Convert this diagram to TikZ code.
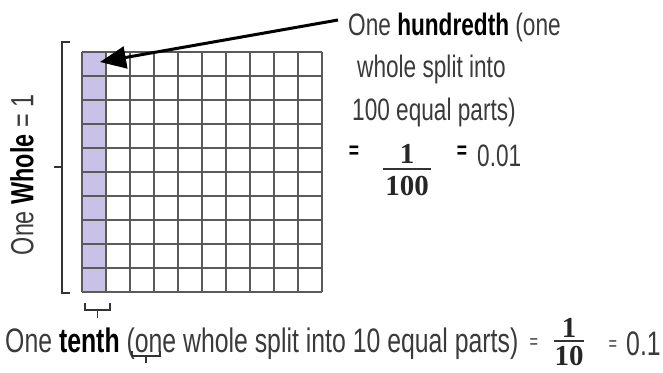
\documentclass[tikz,border=0pt]{standalone}
\usepackage{fontspec}
\setmainfont{Liberation Sans}
\newfontfamily\hand[FakeStretch=0.73]{Liberation Sans}
\newfontfamily\fracfont{Liberation Serif}
\usetikzlibrary{arrows.meta}
\definecolor{txt}{HTML}{3A3A3A}
\definecolor{lav}{HTML}{C9C1E8}
\definecolor{gridc}{HTML}{5A5A5A}
\tikzset{
  hw/.style={font=\hand\fontsize{31}{33}\selectfont, text=txt, inner sep=0pt, anchor=base west},
  hwb/.style={font=\hand\fontsize{34}{36}\selectfont, text=txt, inner sep=0pt, anchor=base west},
  fr/.style={font=\fracfont\bfseries\fontsize{29}{31}\selectfont, text=black!85, inner sep=0pt, anchor=base},
  eqs/.style={font=\hand\bfseries\fontsize{24}{26}\selectfont, text=black, inner sep=0pt},
  eqb/.style={font=\hand\fontsize{20}{22}\selectfont, text=txt, inner sep=0pt},
  brk/.style={draw=black!80, line width=1.4pt},
}
\begin{document}
\begin{tikzpicture}[x=1pt,y=-1pt]
\useasboundingbox (0,0) rectangle (663,372);
% shaded tenth column
\fill[lav] (82,52) rectangle (106,292);
% grid
\foreach \i in {0,...,10} {
  \draw[gridc, line width=1.3pt] (82+24*\i,52) -- (82+24*\i,292);
  \draw[gridc, line width=1.3pt] (82,52+24*\i) -- (322,52+24*\i);
}
\coordinate (cell) at (100,62);
% left bracket
\draw[brk] (70,42) -- (62,42) -- (62,293) -- (70,293);
\draw[brk] (54,167) -- (62,167);
% rotated label
\node[font=\hand\fontsize{32}{34}\selectfont, text=txt, inner sep=0pt, rotate=90] (whole) at (22,175) {One \textbf{\color{black}Whole} = 1};
% bottom small bracket under first column
\draw[brk] (85,303) -- (85,310) -- (110,310) -- (110,303);
\draw[brk] (97.5,310) -- (97.5,318);
% hundredth label
\node[hw] (h1) at (348,35) {One \textbf{\color{black}hundredth} (one};
\node[hw] (h2) at (357,77) {whole split into};
\node[hw] (h3) at (352,120) {100 equal parts)};
\node[eqs] (e1) at (354,152) {=};
\node[fr] (n1) at (407,163) {1};
\draw[black!80, line width=1.4pt] (383,169) -- (431,169);
\node[fr] (d1) at (407,195) {100};
\node[eqs] (e2) at (462,152) {=};
\node[hw] (v1) at (477,166) {0.01};
% arrow
\coordinate (tail) at (338,20);
\draw[line width=3pt, -{Triangle[length=26pt,width=22pt]}] (tail) -- (cell);
% tenth label
\node[hwb] (t1) at (5,352) {One \textbf{\color{black}tenth} (one whole split into 10 equal parts)};
\draw[black!80, line width=1.2pt] (132,351) -- (132,356) -- (160,356) -- (160,351);
\draw[black!80, line width=1.2pt] (146,356) -- (146,363);
\node[eqb] (e3) at (534,344) {=};
\node[fr] (n2) at (569,337) {1};
\draw[black!80, line width=1.4pt] (554,341) -- (584,341);
\node[fr] (d2) at (569,365) {10};
\node[eqb] (e4) at (613,346) {=};
\node[hwb] (v2) at (626,355) {0.1};
\end{tikzpicture}
\end{document}
